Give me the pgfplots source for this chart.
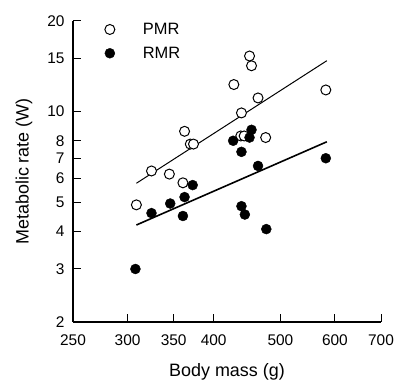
\documentclass[border=0pt]{standalone}
\usepackage{fontspec}
\setmainfont{Liberation Sans}
\usepackage{pgfplots}
\pgfplotsset{compat=1.18}
\begin{document}
\begin{tikzpicture}
\path[use as bounding box] (-73bp,-59bp) rectangle (323bp,322bp);
\begin{axis}[
  scale only axis, width=308bp, height=301bp,
  xmode=log, ymode=log,
  xmin=250, xmax=700, ymin=2, ymax=20,
  axis lines*=left,
  axis line style={line width=1.2bp},
  clip=false,
  xtick={250,300,350,400,500,600,700},
  xticklabels={250,300,350,400,500,600,700},
  ytick={2,3,4,5,6,7,8,10,15,20},
  yticklabels={2,3,4,5,6,7,8,10,15,20},
  minor xtick={}, minor ytick={},
  major tick length=8bp,
  tick style={line width=1bp, black},
  tick align=inside,
  /pgf/number format/assume math mode=true,
  ticklabel style={font=\fontsize{15.5}{17}\selectfont},
  xticklabel style={yshift=-9bp},
  yticklabel style={xshift=-5bp},
  xlabel={Body mass (g)}, ylabel={Metabolic rate (W)},
  label style={font=\fontsize{18}{20}\selectfont},
  xlabel style={at={(axis description cs:0.5,-0.166)}, anchor=center},
  ylabel style={at={(axis description cs:-0.159,0.5)}, anchor=center},
  legend style={at={(0.093,1.007)}, anchor=north west, draw=none, fill=none,
    font=\fontsize{16.5}{19}\selectfont, row sep=7bp},
  legend cell align=left,
  legend image code/.code={\draw[#1] plot coordinates {(5bp,0bp)}; \path[draw=none,fill=none] (0bp,-5bp) rectangle (36bp,5bp);},
]
\addplot[only marks, mark=*, mark size=5bp, mark options={fill=white, draw=black, line width=1bp}]
 coordinates {
 (451,15.3) (454,14.2) (428,12.3) (464,11.1) (439,9.9) (582,11.8)
 (438,8.3) (443,8.3) (476,8.2) (363,8.6) (370,7.8) (374,7.8)
 (325,6.35) (345,6.2) (361,5.8) (309,4.9)
 };
\addlegendentry{PMR}
\addplot[only marks, mark=*, mark size=5bp, mark options={fill=black, draw=black}]
 coordinates {
 (454,8.7) (427,8.0) (451,8.2) (439,7.35) (464,6.6) (582,7.0)
 (373,5.7) (325,4.6) (346,4.95) (363,5.2) (361,4.5) (308,3.0)
 (439,4.85) (444,4.55) (477,4.07)
 };
\addlegendentry{RMR}
\addplot[black, line width=1bp, forget plot] coordinates {(309,5.78) (584,14.76)};
\addplot[black, line width=1.6bp, forget plot] coordinates {(309,4.2) (584,7.94)};
\end{axis}
\end{tikzpicture}
\end{document}
